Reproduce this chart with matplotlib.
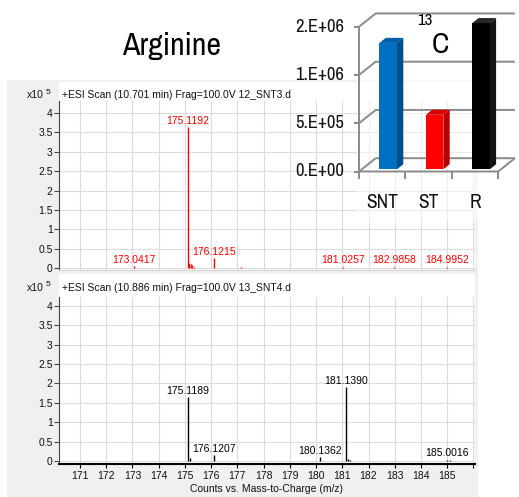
#!/usr/bin/env python3
"""Arginine MS spectra (SNT3 / SNT4) with 13C abundance bar inset."""

import matplotlib

matplotlib.use("Agg")
import matplotlib.pyplot as plt
from matplotlib.patches import Polygon, Rectangle

# ---- spectrum data (intensity in units of 1e5 counts) ----
top_mz = [173.0417, 175.1192, 175.16, 175.22, 175.28, 175.35,
          176.1215, 177.12, 181.0257, 182.9858, 184.9952]
top_int = [0.05, 3.64, 0.12, 0.10, 0.07, 0.04,
           0.26, 0.04, 0.04, 0.04, 0.04]
top_labeled = [True, True, False, False, False, False,
               True, False, True, True, True]

bot_mz = [175.1189, 175.2, 176.1207, 180.1362, 181.1390, 181.21,
          181.3, 182.0, 183.0, 185.0016, 185.1]
bot_int = [1.64, 0.07, 0.14, 0.09, 1.90, 0.04,
           0.02, 0.01, 0.01, 0.03, 0.02]
bot_labeled = [True, False, True, True, True, False,
               False, False, False, True, False]

top_header = "+ESI Scan (10.701 min) Frag=100.0V 12_SNT3.d"
bot_header = "+ESI Scan (10.886 min) Frag=100.0V 13_SNT4.d"

mz_ticks = list(range(171, 187))
int_ticks = [0, 0.5, 1, 1.5, 2, 2.5, 3, 3.5, 4]

# ---- 13C inset data ----
bar_labels = ["SNT", "ST", "R"]
bar_values = [1.31e6, 0.565e6, 1.515e6]
bar_grid = [0, 0.5e6, 1.0e6, 1.5e6]

W, H = 519, 497
plt.rcParams["font.family"] = ["Liberation Sans", "DejaVu Sans"]
NARROW = dict(family=["Archivo Narrow", "DejaVu Sans"])


def px_rect(x0, y0, x1, y1):
    return [x0 / W, 1 - y1 / H, (x1 - x0) / W, (y1 - y0) / H]


def fig_text(fig, x, y, s, **kw):
    return fig.text(x / W, 1 - y / H, s, **kw)


def draw_spectrum(ax, mz, inten, labeled, color, ylim, show_x):
    ax.set_facecolor("white")
    ax.set_xlim(170.2, 186.06)
    ax.set_ylim(*ylim)
    ax.set_xticks(mz_ticks)
    ax.set_yticks(int_ticks)
    ax.set_yticklabels([f"{v:g}" for v in int_ticks])
    ax.grid(True, color="#dcdcdc", lw=0.8)
    ax.set_axisbelow(True)
    for side in ("top", "right"):
        ax.spines[side].set_visible(False)
    ax.spines["left"].set_color("#444444")
    ax.spines["left"].set_linewidth(0.8)
    ax.tick_params(axis="y", direction="out", length=3.6, width=0.8,
                   color="#444444", labelsize=7.5, pad=1, labelcolor="#111111")
    if show_x:
        ax.spines["bottom"].set_color("black")
        ax.spines["bottom"].set_linewidth(1.5)
        ax.set_xticklabels([str(t) if t < 186 else "" for t in mz_ticks])
        ax.tick_params(axis="x", direction="out", length=3, width=0.8,
                       labelsize=7.5, pad=2, labelcolor="#111111")
        ax.set_xlabel("Counts vs. Mass-to-Charge (m/z)", fontsize=7.5,
                      labelpad=2, color="#111111")
    else:
        ax.spines["bottom"].set_color("#d4d4d4")
        ax.tick_params(axis="x", length=0, labelbottom=False)

    ax.vlines(mz, 0, inten, color=color, lw=1.0)
    for m, h, lab in zip(mz, inten, labeled):
        if lab:
            ax.annotate(f"{m:.4f}", (m, h), xytext=(0, 1),
                        textcoords="offset points", ha="center", va="bottom",
                        fontsize=7.5, color=color)


def excel_sci(v):
    # Excel "0.E+00" number format
    return f"{v:.0E}".replace("E", ".E")


def draw_inset(ax):
    # pixel layout of the pseudo-3D column chart
    floor_x, cat_px = 359.0, 46.4
    zero_y, val_px = 171.5, 96.5e-6
    ax.set_xlim((285 - floor_x) / cat_px, (519 - floor_x) / cat_px)
    ax.set_ylim(-(222 - zero_y) / val_px, zero_y / val_px)
    ax.axis("off")

    dx = 16.7 / cat_px          # depth offset in category units
    dy = 13.3 / val_px          # depth offset in value units
    n = len(bar_labels)
    grid_kw = dict(color="#8a8a8a", lw=1.4, solid_capstyle="butt", zorder=1)

    # wall gridlines (left wall diagonal + back wall)
    for g in bar_grid:
        ax.plot([0, dx, n + dx], [g, g + dy, g + dy], **grid_kw)
    # front value axis, floor front and right edges
    ax.plot([0, 0], [0, bar_grid[-1]], **grid_kw)
    ax.plot([0, n, n + dx], [0, 0, dy], **grid_kw)
    tick_x = 5.5 / cat_px
    tick_y = 7 / val_px
    for g in bar_grid:
        ax.plot([-tick_x, 0], [g, g], **grid_kw)
        ax.text(-0.32, g, excel_sci(g), ha="right", va="center",
                fontsize=13.4, color="#111111", **NARROW)
    for k in range(n + 1):
        ax.plot([k, k], [0, -tick_y], **grid_kw)

    colors = [("#0070c0", "#004f8c", "#005ea6"),
              ("#ff0000", "#b80000", "#d40000"),
              ("#000000", "#151515", "#262626")]
    width = 17.5 / cat_px
    d0, db = 0.165, 0.38
    for i, (v, (cf, cs, ct)) in enumerate(zip(bar_values, colors)):
        x0 = i + 0.57 - width / 2 + d0 * dx
        y0 = d0 * dy
        x1 = x0 + width
        ax.add_patch(Rectangle((x0, y0), width, v, facecolor=cf,
                               edgecolor="none", zorder=3))
        ax.add_patch(Polygon([(x1, y0), (x1 + db * dx, y0 + db * dy),
                              (x1 + db * dx, y0 + v + db * dy), (x1, y0 + v)],
                             closed=True, facecolor=cs, edgecolor="none",
                             zorder=3))
        ax.add_patch(Polygon([(x0, y0 + v), (x1, y0 + v),
                              (x1 + db * dx, y0 + v + db * dy),
                              (x0 + db * dx, y0 + v + db * dy)],
                             closed=True, facecolor=ct, edgecolor="none",
                             zorder=3))
        ax.text(i + 0.5, -(203 - zero_y) / val_px, bar_labels[i],
                ha="center", va="center", fontsize=14, color="#111111",
                **NARROW)


def main():
    fig = plt.figure(figsize=(W / 100, H / 100), dpi=100)
    fig.patch.set_facecolor("white")

    # grey instrument-panel background and white header strips
    fig.patches.append(Rectangle((7 / W, 0), 471 / W, 1 - 80 / H,
                                 transform=fig.transFigure,
                                 facecolor="#f0f0f0", edgecolor="none",
                                 zorder=-2))
    for y0, y1 in ((82, 101), (274, 297)):
        fig.patches.append(Rectangle((59 / W, 1 - y1 / H), 416 / W,
                                     (y1 - y0) / H,
                                     transform=fig.transFigure,
                                     facecolor="white", edgecolor="none",
                                     zorder=-1))

    ax_top = fig.add_axes(px_rect(59, 101, 475, 270))
    draw_spectrum(ax_top, top_mz, top_int, top_labeled, "#ff0000",
                  (-0.05, 4.31), show_x=False)
    ax_bot = fig.add_axes(px_rect(59, 297, 475, 464))
    draw_spectrum(ax_bot, bot_mz, bot_int, bot_labeled, "black",
                  (-0.08, 4.23), show_x=True)

    for base, header in ((98, top_header), (291, bot_header)):
        fig_text(fig, 44, base, "x10", ha="right", va="baseline",
                 fontsize=7.5, color="#111111")
        fig_text(fig, 46, base - 4.5, "5", ha="left", va="baseline",
                 fontsize=6, color="#111111")
        fig_text(fig, 62, base, header, ha="left", va="baseline",
                 fontsize=7.5, color="#111111")

    # faded backdrop behind the inset chart
    fig.patches.append(Rectangle((357 / W, 1 - 222 / H), 162 / W, 222 / H,
                                 transform=fig.transFigure,
                                 facecolor="white", alpha=0.5,
                                 edgecolor="none", zorder=2))
    ax_in = fig.add_axes(px_rect(285, 0, 519, 222))
    ax_in.set_zorder(3)
    ax_in.patch.set_alpha(0)
    draw_inset(ax_in)

    fig_text(fig, 171.5, 55, "Arginine", ha="center", va="baseline",
             fontsize=23, color="black", zorder=5, **NARROW)
    fig_text(fig, 424.5, 25, "13", ha="center", va="baseline",
             fontsize=12, color="black", zorder=5, **NARROW)
    fig_text(fig, 440, 53, "C", ha="center", va="baseline",
             fontsize=21, color="black", zorder=5, **NARROW)

    fig.savefig("out.png", dpi=100)
    plt.close(fig)


if __name__ == "__main__":
    main()
